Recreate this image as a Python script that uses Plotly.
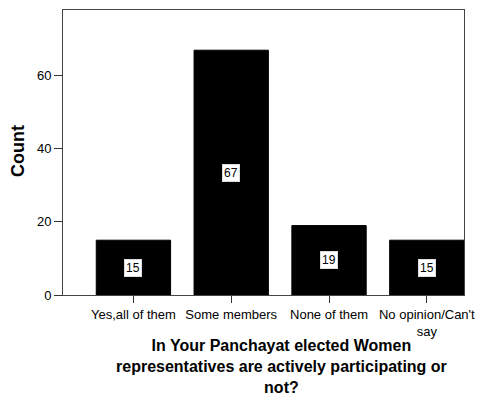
import plotly.graph_objects as go

categories = ["Yes,all of them", "Some members", "None of them", "No opinion/Can't<br>say"]
counts = [15, 67, 19, 15]
y_ticks = [0, 20, 40, 60]
x_title_lines = [
    "In Your Panchayat elected Women",
    "representatives are actively participating or",
    "not?",
]

FONT = "Arial, Liberation Sans, sans-serif"
PLOT_TOP, PLOT_BOTTOM, PLOT_LEFT, PLOT_RIGHT = 10, 295, 63, 464
PLOT_H = PLOT_BOTTOM - PLOT_TOP
PLOT_W = PLOT_RIGHT - PLOT_LEFT

fig = go.Figure()
fig.add_trace(go.Bar(
    x=list(range(len(categories))),
    y=counts,
    width=0.76,
    marker=dict(color="black", line=dict(color="black", width=1)),
    hoverinfo="skip",
))

# value labels in white boxes at mid-height of each bar
for i, v in enumerate(counts):
    fig.add_annotation(
        x=i, y=v / 2, text=str(v), showarrow=False,
        font=dict(family=FONT, size=12, color="black"),
        bgcolor="white", bordercolor="#dddddd", borderwidth=1, borderpad=1,
    )

# x-axis title (three centred lines)
fig.add_annotation(
    xref="paper", yref="paper",
    x=(281 - PLOT_LEFT) / PLOT_W, y=(PLOT_BOTTOM - 367) / PLOT_H,
    xanchor="center", yanchor="middle", align="center", borderpad=0,
    text="<b>" + "<br>".join(x_title_lines) + "</b>", showarrow=False,
    font=dict(family=FONT, size=16, color="black"),
)

# y-axis title
fig.add_annotation(
    xref="paper", yref="paper",
    x=(18 - PLOT_LEFT) / PLOT_W, y=(PLOT_BOTTOM - 151) / PLOT_H,
    xanchor="center", yanchor="middle", textangle=-90,
    text="<b>Count</b>", showarrow=False,
    font=dict(family=FONT, size=18, color="black"),
)

fig.update_layout(
    width=486, height=400,
    margin=dict(l=PLOT_LEFT, r=486 - PLOT_RIGHT, t=PLOT_TOP, b=400 - PLOT_BOTTOM),
    paper_bgcolor="white", plot_bgcolor="white",
    showlegend=False,
    font=dict(family=FONT, size=13, color="black"),
    xaxis=dict(
        range=[-0.72, 3.38],
        tickmode="array", tickvals=list(range(len(categories))), ticktext=categories,
        ticks="outside", ticklen=7, tickcolor="#333333",
        showline=True, linecolor="#444444", linewidth=1, mirror=True,
        showgrid=False, zeroline=False,
        tickfont=dict(family=FONT, size=13, color="black"),
    ),
    yaxis=dict(
        range=[0, 78],
        tickmode="array", tickvals=y_ticks,
        ticks="outside", ticklen=8, tickcolor="#333333",
        showline=True, linecolor="#444444", linewidth=1, mirror=True,
        showgrid=False, zeroline=False,
        tickfont=dict(family=FONT, size=13, color="black"),
    ),
)

fig.write_html("out.html")
